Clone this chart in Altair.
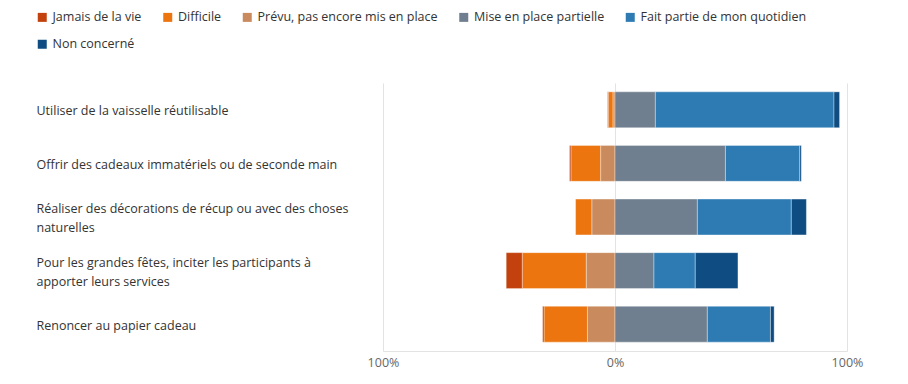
import altair as alt
import pandas as pd

categories = [
    "Utiliser de la vaisselle réutilisable",
    "Offrir des cadeaux immatériels ou de seconde main",
    "Réaliser des décorations de récup ou avec des choses|naturelles",
    "Pour les grandes fêtes, inciter les participants à|apporter leurs services",
    "Renoncer au papier cadeau",
]
series_names = [
    "Jamais de la vie",
    "Difficile",
    "Prévu, pas encore mis en place",
    "Mise en place partielle",
    "Fait partie de mon quotidien",
    "Non concerné",
]
colors = ["#c2410c", "#ec750f", "#c98a5d", "#6f7f8f", "#2e7bb4", "#0f4c81"]

jamais = [0.3, 0.6, 0.0, 6.9, 0.6]
difficile = [2.0, 12.8, 7.0, 27.6, 18.7]
prevu = [0.9, 6.2, 10.0, 12.4, 11.9]
mise = [17.4, 47.6, 35.5, 16.8, 39.8]
fait = [77.0, 32.0, 40.5, 17.8, 27.2]
non = [2.4, 0.7, 6.5, 18.4, 1.6]

x_ticks = [-100, 0, 100]

rows = []
for i, cat in enumerate(categories):
    # left side: from 0 outward: Prévu, Difficile, Jamais
    pos = 0.0
    for name, vals in [(series_names[2], prevu), (series_names[1], difficile), (series_names[0], jamais)]:
        v = vals[i]
        rows.append({"cat": cat, "serie": name, "x": -pos, "x2": -(pos + v), "val": v})
        pos += v
    pos = 0.0
    for name, vals in [(series_names[3], mise), (series_names[4], fait), (series_names[5], non)]:
        v = vals[i]
        rows.append({"cat": cat, "serie": name, "x": pos, "x2": pos + v, "val": v})
        pos += v
df = pd.DataFrame(rows)
df = df[df["val"] > 0]

FONT = "Open Sans"
FS = 12.5

chart = alt.Chart(df).mark_bar(stroke="white", strokeWidth=0.6, strokeOpacity=0.6).encode(
    y=alt.Y(
        "cat:N",
        sort=categories,
        title=None,
        scale=alt.Scale(paddingInner=0.33, paddingOuter=0.165),
        axis=alt.Axis(
            domain=False,
            ticks=False,
            grid=False,
            labelAlign="left",
            labelPadding=347,
            labelExpr="split(datum.value, '|')",
            labelOffset={"condition": {"test": "indexof(datum.value, '|') >= 0", "value": -8}, "value": 1.5},
            labelFont=FONT,
            labelFontSize=FS,
            labelColor="#333333",
            labelLineHeight=19,
            labelLimit=400,
        ),
    ),
    x=alt.X(
        "x:Q",
        title=None,
        scale=alt.Scale(domain=[-100, 100], nice=False),
        axis=alt.Axis(
            values=x_ticks,
            labelExpr="abs(datum.value) + '%'",
            ticks=False,
            domain=True,
            domainColor="#e3e3e3",
            gridColor="#e3e3e3",
            labelFlush=False,
            labelFont=FONT,
            labelFontSize=FS,
            labelColor="#666666",
            labelPadding=5,
        ),
    ),
    x2="x2:Q",
    color=alt.Color(
        "serie:N",
        scale=alt.Scale(domain=series_names, range=colors),
        legend=alt.Legend(
            title=None,
            orient="none",
            legendX=-347,
            legendY=-72,
            direction="horizontal",
            columns=5,
            symbolType="square",
            symbolSize=81,
            symbolStrokeWidth=0,
            labelFont=FONT,
            labelFontSize=FS,
            labelColor="#333333",
            labelOffset=4,
            columnPadding=19.5,
            rowPadding=14,
            labelLimit=300,
        ),
    ),
).properties(
    width=464,
    height=268,
    autosize=alt.AutoSizeParams(type="none"),
    padding={"left": 375, "top": 75, "right": 45, "bottom": 25},
).configure_view(strokeWidth=0)

chart.save("out.html", embed_options={"renderer": "svg", "actions": False})
